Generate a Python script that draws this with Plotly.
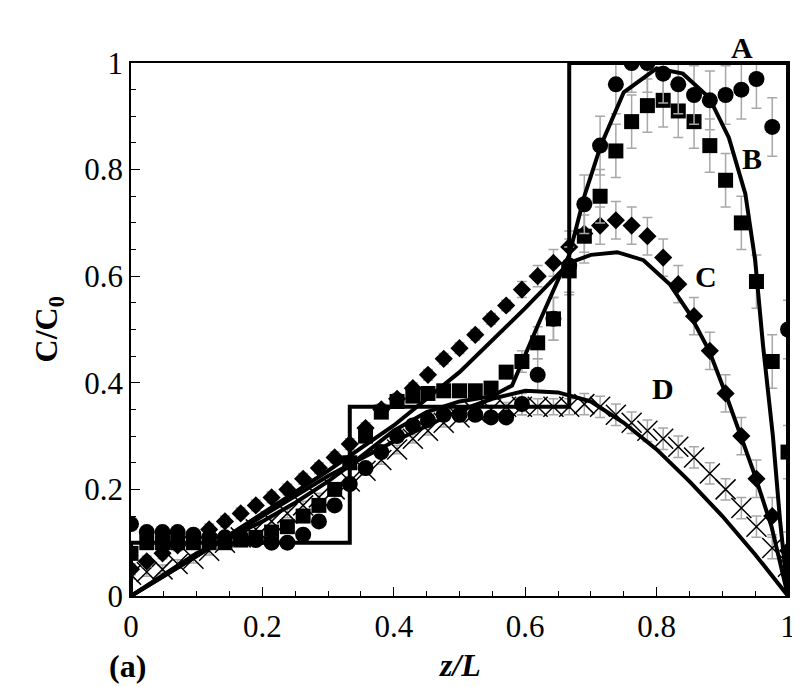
import plotly.graph_objects as go

# sample positions z/L of the measured profiles
z_data = [0.0, 0.024, 0.048, 0.071, 0.095, 0.119, 0.143, 0.167, 0.190, 0.214,
          0.238, 0.262, 0.286, 0.310, 0.333, 0.357, 0.381, 0.405, 0.429, 0.452,
          0.476, 0.500, 0.524, 0.548, 0.571, 0.595, 0.619, 0.643, 0.667, 0.690,
          0.714, 0.738, 0.762, 0.786, 0.810, 0.833, 0.857, 0.881, 0.905, 0.929,
          0.952, 0.976, 1.0]

circles = [0.135, 0.12, 0.12, 0.12, 0.115, 0.11, 0.11, 0.11, 0.105, 0.10,
           0.10, 0.115, 0.14, 0.17, 0.21, 0.24, 0.27, 0.30, 0.32, 0.33,
           0.34, 0.34, 0.34, 0.335, 0.335, 0.36, 0.415, 0.52, 0.62, 0.735,
           0.845, 0.96, 1.0, 1.0, 0.98, 0.96, 0.94, 0.93, 0.94, 0.95,
           0.97, 0.88, 0.50]
squares = [0.08, 0.10, 0.10, 0.10, 0.10, 0.10, 0.10, 0.105, 0.11, 0.12,
           0.13, 0.15, 0.17, 0.20, 0.25, 0.30, 0.345, 0.365, 0.375, 0.38,
           0.385, 0.385, 0.385, 0.39, 0.42, 0.44, 0.475, 0.52, 0.61, 0.675,
           0.75, 0.835, 0.89, 0.92, 0.93, 0.91, 0.89, 0.845, 0.78, 0.70,
           0.59, 0.44, 0.27]
diamonds = [0.05, 0.065, 0.08, 0.095, 0.11, 0.125, 0.14, 0.155, 0.17, 0.185,
            0.20, 0.22, 0.24, 0.26, 0.285, 0.315, 0.35, 0.37, 0.39, 0.415,
            0.445, 0.465, 0.49, 0.52, 0.545, 0.575, 0.60, 0.625, 0.655, 0.68,
            0.695, 0.705, 0.695, 0.675, 0.635, 0.585, 0.525, 0.46, 0.38, 0.30,
            0.22, 0.15, 0.085]
crosses = [0.04, 0.045, 0.05, 0.06, 0.07, 0.085, 0.10, 0.11, 0.125, 0.14,
           0.155, 0.17, 0.185, 0.20, 0.215, 0.235, 0.255, 0.275, 0.295, 0.31,
           0.325, 0.335, 0.345, 0.35, 0.355, 0.355, 0.355, 0.355, 0.355, 0.36,
           0.355, 0.34, 0.325, 0.31, 0.295, 0.28, 0.26, 0.23, 0.20, 0.165,
           0.13, 0.09, 0.055]

# error bar half-widths
err_circles = [0.01] * 25 + [0.02, 0.03, 0.04, 0.05] + [0.055] * 14
err_squares = [0.01] * 25 + [0.02, 0.03, 0.04, 0.045] + [0.05] * 14
err_diamonds = [0.01] * 25 + [0.015, 0.02, 0.025, 0.03] + [0.035] * 14
err_crosses = [0.008] * 25 + [0.015] * 4 + [0.02] * 14

# model curves
zA = [0.0, 0.0, 0.333, 0.333, 0.667, 0.667, 1.0, 1.0]
cA = [0.0, 0.1, 0.1, 0.355, 0.355, 1.0, 1.0, 0.0]

zB = [0.0, 0.05, 0.1, 0.15, 0.2, 0.25, 0.3, 0.333, 0.4, 0.45, 0.5, 0.55, 0.58,
      0.62, 0.667, 0.69, 0.715, 0.75, 0.8, 0.84, 0.88, 0.91, 0.935, 0.95,
      0.962, 0.977, 0.988, 1.0]
cB = [0.0, 0.04, 0.08, 0.11, 0.14, 0.175, 0.215, 0.245, 0.31, 0.345, 0.365,
      0.375, 0.395, 0.51, 0.64, 0.75, 0.845, 0.945, 0.99, 0.98, 0.935, 0.86,
      0.755, 0.63, 0.47, 0.30, 0.14, 0.0]

zC = [0.0, 0.1, 0.2, 0.3, 0.4, 0.5, 0.6, 0.667, 0.7, 0.74, 0.78, 0.82, 0.85,
      0.88, 0.905, 0.93, 0.95, 0.975, 1.0]
cC = [0.0, 0.075, 0.155, 0.235, 0.32, 0.42, 0.54, 0.625, 0.64, 0.645, 0.63,
      0.585, 0.53, 0.46, 0.38, 0.295, 0.225, 0.13, 0.0]

zD = [0.0, 0.1, 0.2, 0.3, 0.4, 0.5, 0.55, 0.6, 0.65, 0.7, 0.75, 0.8, 0.85,
      0.9, 0.95, 1.0]
cD = [0.0, 0.075, 0.15, 0.225, 0.29, 0.348, 0.37, 0.385, 0.382, 0.365, 0.325,
      0.275, 0.215, 0.15, 0.078, 0.0]

serif = "Liberation Serif, Times New Roman, serif"
grey_err = dict(type="data", color="#a8a8a8", thickness=1.5, width=5)

fig = go.Figure()

fig.add_trace(go.Scatter(x=z_data, y=crosses, mode="markers",
                         error_y=dict(grey_err, array=err_crosses),
                         marker=dict(symbol="x-thin", size=20,
                                     line=dict(color="black", width=1.5))))
fig.add_trace(go.Scatter(x=z_data, y=diamonds, mode="markers",
                         error_y=dict(grey_err, array=err_diamonds),
                         marker=dict(symbol="diamond", size=14, color="black")))
fig.add_trace(go.Scatter(x=z_data, y=squares, mode="markers",
                         error_y=dict(grey_err, array=err_squares),
                         marker=dict(symbol="square", size=15, color="black")))
fig.add_trace(go.Scatter(x=z_data, y=circles, mode="markers",
                         error_y=dict(grey_err, array=err_circles),
                         marker=dict(symbol="circle", size=16, color="black")))

for zz, cc in [(zA, cA), (zB, cB), (zC, cC), (zD, cD)]:
    fig.add_trace(go.Scatter(x=zz, y=cc, mode="lines",
                             line=dict(color="black", width=4)))

# curve labels (A sits above the frame, so paper coords)
fig.add_annotation(xref="paper", yref="paper", x=0.93, y=1.03, text="<b>A</b>",
                   xanchor="center", yanchor="middle", showarrow=False,
                   font=dict(family=serif, size=30, color="black"))
for txt, xx, yy in [("B", 0.945, 0.82), ("C", 0.875, 0.6), ("D", 0.81, 0.39)]:
    fig.add_annotation(x=xx, y=yy, text="<b>" + txt + "</b>", showarrow=False,
                       xanchor="center", yanchor="middle",
                       font=dict(family=serif, size=30, color="black"))

fig.add_annotation(xref="paper", yref="paper", x=0.5, y=-0.13,
                   xanchor="center", yanchor="middle",
                   text="<b><i>z/L</i></b>", showarrow=False,
                   font=dict(family=serif, size=32, color="black"))
fig.add_annotation(xref="paper", yref="paper", x=-0.125, y=0.5, textangle=-90,
                   xanchor="center", yanchor="middle",
                   text="<b>C/C<sub>0</sub></b>", showarrow=False,
                   font=dict(family=serif, size=32, color="black"))
fig.add_annotation(xref="paper", yref="paper", x=-0.036, y=-0.132,
                   xanchor="left", yanchor="middle",
                   text="<b>(a)</b>", showarrow=False,
                   font=dict(family=serif, size=32, color="black"))

axis_common = dict(range=[0, 1], showgrid=False, zeroline=False,
                   showline=True, linecolor="black", linewidth=1.5, mirror=True,
                   ticks="inside", ticklen=9, tickwidth=1.2, tickcolor="black",
                   tickvals=[0, 0.2, 0.4, 0.6, 0.8, 1],
                   ticktext=["0", "0.2", "0.4", "0.6", "0.8", "1"],
                   tickfont=dict(family=serif, size=31, color="black"),
                   minor=dict(dtick=0.05, ticks="inside", ticklen=5,
                              tickcolor="black", tickwidth=1))
fig.update_xaxes(**axis_common, ticklabelstandoff=2)
fig.update_yaxes(**axis_common)

fig.update_layout(width=800, height=687, showlegend=False,
                  plot_bgcolor="white", paper_bgcolor="white",
                  margin=dict(l=123, r=15, t=55, b=99))

fig.write_html("out.html")
